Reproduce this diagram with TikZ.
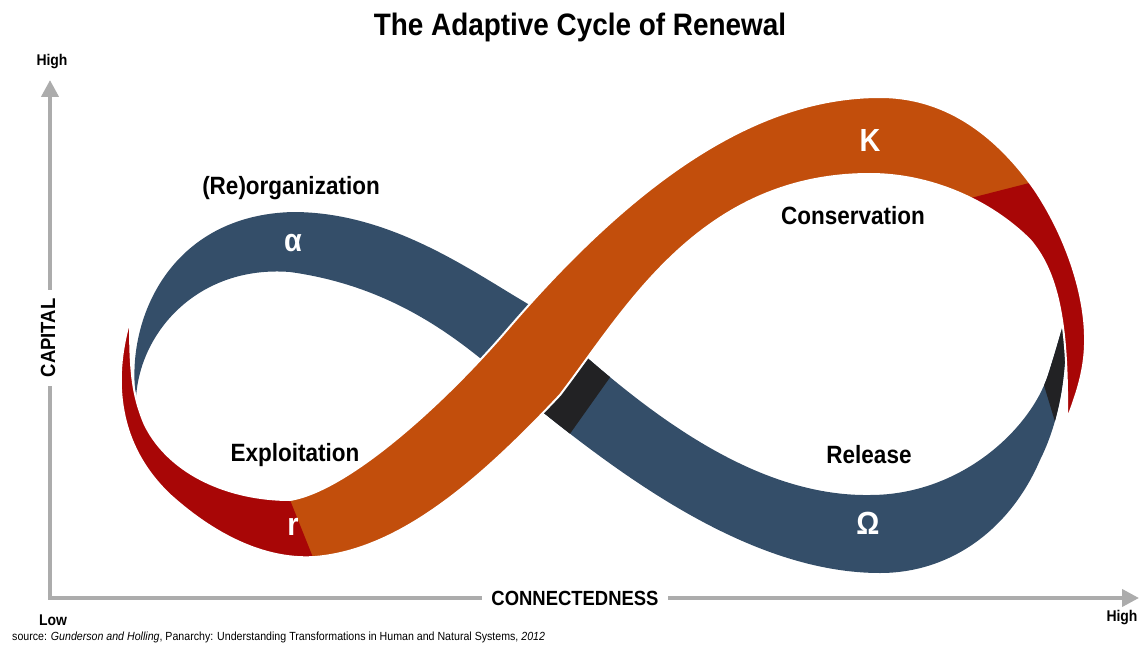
\documentclass[tikz,border=0pt]{standalone}
\usepackage{fontspec}
\setmainfont{Liberation Sans}[FakeStretch=0.9]
\usetikzlibrary{arrows.meta}

\definecolor{cycleblue}{RGB}{52,78,105}
\definecolor{cycleorange}{RGB}{194,78,12}
\definecolor{cyclered}{RGB}{168,6,6}
\definecolor{cycleblack}{RGB}{34,34,36}
\definecolor{axisgray}{RGB}{172,172,172}

% strip behind: alpha loop, under the crossing, Omega loop
\newcommand{\backband}{(136,398) .. controls (125,320) and (170,215) .. (293,212)
  .. controls (390,212) and (470,270) .. (528,304)
  .. controls (620,390) and (740,497) .. (870,495)
  .. controls (960,495) and (1030,430) .. (1048,375)
  .. controls (1056,350) and (1060,335) .. (1065,318)
  .. controls (1068,370) and (1060,420) .. (1040,460)
  .. controls (1010,530) and (950,573) .. (880,573)
  .. controls (760,573) and (640,490) .. (545,414)
  .. controls (490,368) and (420,290) .. (290,272)
  .. controls (200,265) and (140,330) .. (136,398) -- cycle}

% strip in front: r, up through the crossing, K, down to the right end
\newcommand{\frontband}{(130,320) .. controls (115,370) and (112,440) .. (170,495)
  .. controls (220,540) and (270,560) .. (315,557)
  .. controls (400,550) and (480,480) .. (560,395)
  .. controls (625,310) and (700,174) .. (870,174)
  .. controls (930,174) and (990,200) .. (1030,240)
  .. controls (1060,275) and (1068,330) .. (1067,420)
  .. controls (1076,395) and (1086,370) .. (1085,335)
  .. controls (1084,290) and (1065,235) .. (1035,190)
  .. controls (1000,140) and (950,97) .. (880,97)
  .. controls (760,97) and (640,175) .. (507,330)
  .. controls (447,400) and (350,490) .. (290,500)
  .. controls (230,500) and (170,475) .. (145,425)
  .. controls (132,395) and (130,370) .. (130,320) -- cycle}

\begin{document}
\begin{tikzpicture}[x=1pt,y=-1pt,
  axis/.style={draw=axisgray,line width=4pt,-{Triangle[length=17pt,width=17pt]}},
  phase/.style={font=\fontsize{25}{25}\selectfont\bfseries},
  greek/.style={text=white,font=\fontsize{32}{32}\selectfont\bfseries},
  axislabel/.style={font=\fontsize{20.5}{21}\selectfont\bfseries,fill=white,inner sep=9pt},
  endlabel/.style={font=\fontsize{15.5}{16}\selectfont\bfseries}]
  \useasboundingbox (0,0) rectangle (1142,647);

  % the ribbon
  \fill[cycleblue] \backband;
  \begin{scope}
    \clip \backband;
    \fill[cycleblack] (560,320) -- (628,352) -- (562,445) -- (515,415) -- cycle;
    \fill[cycleblack] (1030,300) -- (1100,300) -- (1100,450) -- (1062,445) -- (1040,372) -- cycle;
  \end{scope}
  \fill[cycleorange] \frontband;
  \begin{scope}
    \clip \frontband;
    \fill[cyclered] (100,280) -- (278,280) -- (278,470) -- (318,570) -- (100,580) -- cycle;
    \fill[cyclered] (1045,179) -- (1120,179) -- (1120,460) -- (955,460) -- (955,202) -- cycle;
  \end{scope}
  \draw[white,line width=2pt] \frontband;

  % axes
  \coordinate (origin) at (50,598);
  \coordinate (ytop) at (50,80);
  \coordinate (xend) at (1139,598);
  \draw[axis] (origin) -- (ytop);
  \draw[axis] (48,598) -- (xend);
  \node[axislabel] (conn) at (575,598) {CONNECTEDNESS};
  \node[axislabel,rotate=90] (capital) at (48,338) {CAPITAL};
  \node[endlabel] (yhigh) at (52,62) {High};
  \node[endlabel] (xlow) at (53,620) {Low};
  \node[endlabel] (xhigh) at (1122,618) {High};

  % phases
  \node[font=\fontsize{31}{31}\selectfont\bfseries] (title) at (580,27) {The Adaptive Cycle of Renewal};
  \node[phase] (reorg) at (291,188) {(Re)organization};
  \node[phase] (cons) at (853,216) {Conservation};
  \node[phase] (expl) at (295,455) {Exploitation};
  \node[phase] (rel) at (869,455) {Release};
  \node[greek] (alpha) at (293,243) {α};
  \node[greek] (kay) at (870,140) {K};
  \node[greek] (arr) at (293,527) {r};
  \node[greek] (omega) at (868,523) {Ω};

  \node[anchor=west,inner sep=0pt,font=\fontsize{11.8}{12}\selectfont] (source) at (12,637)
    {source: \textit{Gunderson and Holling}, Panarchy: Understanding Transformations in Human and Natural Systems, \textit{2012}};
\end{tikzpicture}
\end{document}
